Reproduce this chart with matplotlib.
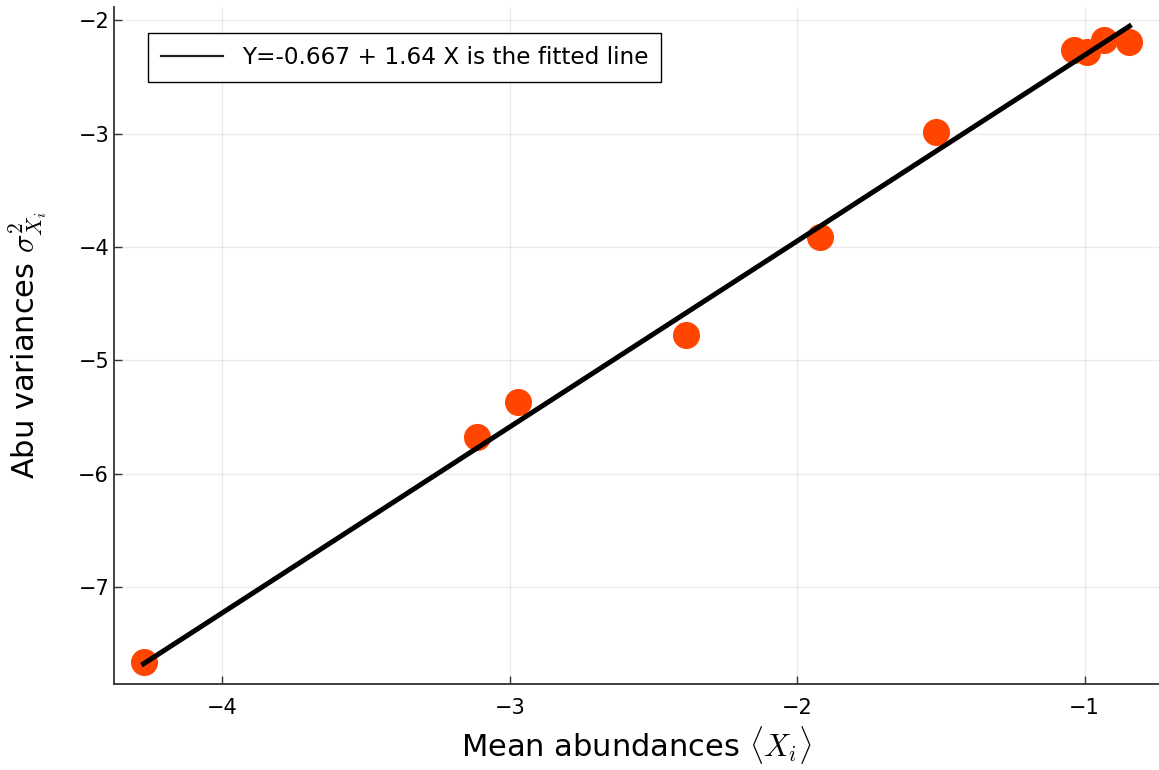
import matplotlib
matplotlib.use("Agg")
import matplotlib.pyplot as plt
import numpy as np

# log mean abundances and log variances
mean_abund = [-4.274, -3.113, -2.971, -2.386, -1.922, -1.516, -1.038, -0.993, -0.931, -0.844]
abu_var = [-7.661, -5.677, -5.369, -4.778, -3.914, -2.988, -2.265, -2.282, -2.176, -2.194]

# fitted line coefficients from the legend
intercept = -0.667
slope = 1.64

x_ticks = [-4, -3, -2, -1]
y_ticks = [-7, -6, -5, -4, -3, -2]

plt.rcParams["mathtext.fontset"] = "cm"

fig = plt.figure(figsize=(11.59, 7.70), dpi=100)
ax = fig.add_axes([114 / 1159, 1 - 684 / 770, 1 - 114 / 1159, (684 - 7) / 770])

ax.plot(mean_abund, abu_var, "o", color="#ff4500", markersize=19.5,
        markeredgewidth=0, zorder=2)

xs = np.array([min(mean_abund), max(mean_abund)])
ax.plot(xs, intercept + slope * xs, color="black", linewidth=3.6, zorder=3,
        label=f"Y={intercept} + {slope} X is the fitted line")

ax.set_xlim(-4.377, -0.741)
ax.set_ylim(-7.855, -1.882)
ax.set_xticks(x_ticks)
ax.set_yticks(y_ticks)
ax.tick_params(direction="in", length=6, width=1, labelsize=15, color="#333333")
ax.tick_params(axis="x", pad=10)
ax.grid(True, color="black", alpha=0.08, linewidth=1)

for side in ["top", "right"]:
    ax.spines[side].set_visible(False)
for side in ["left", "bottom"]:
    ax.spines[side].set_linewidth(1.3)
    ax.spines[side].set_color("#333333")

ax.set_xlabel(r"Mean abundances $\langle X_i \rangle$", fontsize=22)
ax.set_ylabel(r"Abu variances $\sigma^2_{X_i}$", fontsize=22)
ax.xaxis.set_label_coords(0.5, (684 - 745) / 677)
ax.yaxis.set_label_coords((28 - 114) / 1045, 0.5)
ax.xaxis.label.set_va("center")
ax.yaxis.label.set_va("center")

leg = ax.legend(loc="upper left", bbox_to_anchor=(148 / 1159, 1 - 33 / 770),
                bbox_transform=fig.transFigure, borderaxespad=0, fontsize=16.7,
                fancybox=False, framealpha=1, edgecolor="black",
                handlelength=2.7, handletextpad=0.8, borderpad=0.55)
leg.get_frame().set_linewidth(1)
leg.get_lines()[0].set_linewidth(1.6)
leg.get_lines()[0].set_color("#222222")

fig.savefig("out.png", dpi=100)
plt.close("all")
